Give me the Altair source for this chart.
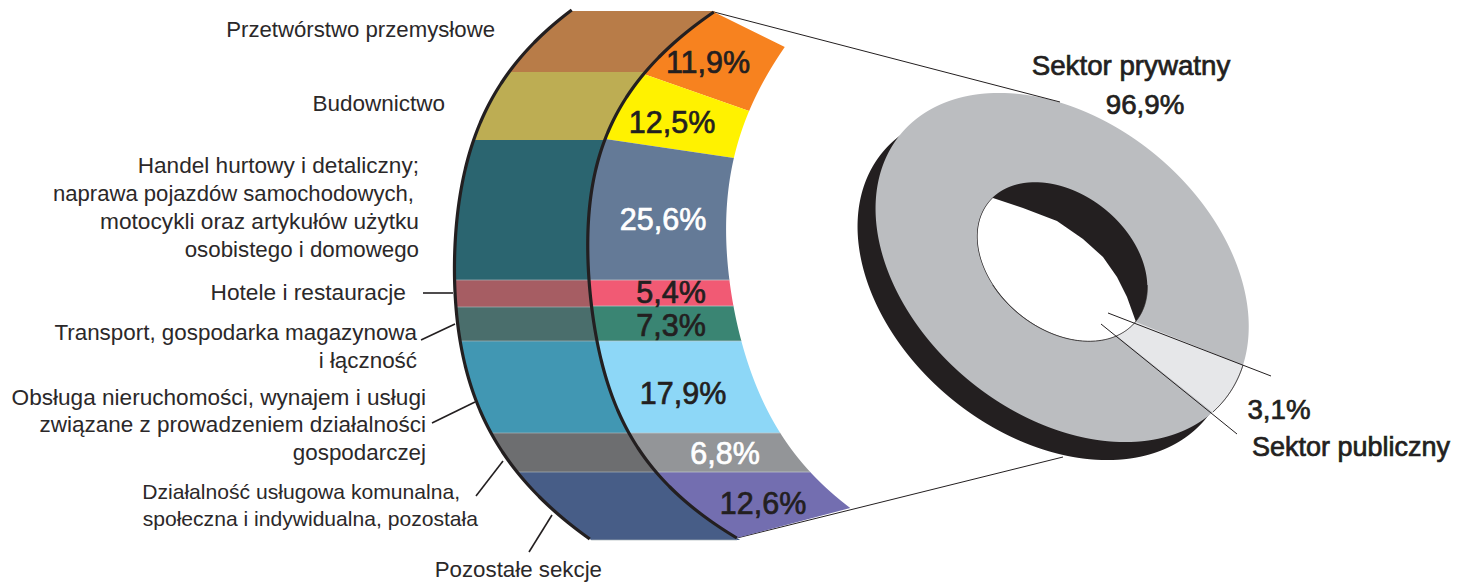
import numpy as np
import pandas as pd
import altair as alt

# ---- values ----
sections = ["Przetwórstwo przemysłowe", "Budownictwo", "Handel hurtowy", "Hotele i restauracje",
            "Transport", "Obsługa nieruchomości", "Działalność usługowa", "Pozostałe sekcje"]
share_labels = ["11,9%", "12,5%", "25,6%", "5,4%", "7,3%", "17,9%", "6,8%", "12,6%"]
share_x = [708, 672, 663, 671, 671, 683, 725, 763]
share_y = [64, 124, 221, 294, 327, 395, 455, 505]
share_colors = ["#231f20", "#231f20", "#ffffff", "#231f20", "#231f20", "#231f20", "#ffffff", "#231f20"]
left_colors = ["#b87c48", "#bdad53", "#2b6570", "#a65d63", "#4a6e6c", "#4197b3", "#6d6e70", "#475d87"]
right_colors = ["#f7821f", "#fff200", "#647a97", "#f15a74", "#3a8573", "#8dd7f7", "#939598", "#736eb0"]

left_breaks = [11, 72, 140, 280, 307, 341, 433, 472, 540]
mid_breaks = [12, 74, 139, 280, 306, 341, 433, 472, 538]
outer_breaks = [47, 111, 158, 280, 306, 341, 433, 472, 508]

left_arc_y = [10, 72, 140, 280, 306, 341, 433, 472, 539]
left_arc_x = [572, 508, 475, 453, 456, 461, 492, 516, 590]
mid_arc_y = [12, 74, 139, 280, 306, 341, 433, 472, 538]
mid_arc_x = [714, 643, 606, 588, 592, 597, 630, 655, 737]
outer_arc_y = [47, 111, 158, 217, 280, 306, 341, 433, 472, 508]
outer_arc_x = [785, 748, 735, 727, 728, 733, 742, 782, 808, 851]

ring_x = [1000, 1060, 1133, 1200, 1247, 893, 878, 883, 905, 1249, 1242, 1212, 1177, 1133, 1083, 1037, 960, 885]
ring_y = [93, 102, 137, 203, 297, 145, 213, 257, 307, 327, 365, 412, 435, 442, 438, 420, 373, 270]
hole_x = [993, 977, 980, 993, 1013, 1037, 1090, 1117, 1136, 1146, 1143, 1133, 1103, 1067, 1033, 1007]
hole_y = [198, 237, 260, 287, 308, 325, 342, 336, 322, 293, 260, 243, 207, 187, 183, 188]
wall_x = [990, 1023, 1057, 1083, 1103, 1117, 1127, 1136]
wall_y = [197, 208, 221, 239, 257, 277, 297, 322]
depth = 18

left_text = [
    ("Przetwórstwo przemysłowe", 495, 30, 22.2), ("Budownictwo", 445, 104, 22.5),
    ("Handel hurtowy i detaliczny;", 419, 166, 22.6), ("naprawa pojazdów samochodowych,", 414, 194, 22.1),
    ("motocykli oraz artykułów użytku", 419, 222, 22.7), ("osobistego i domowego", 419, 250, 22.3),
    ("Hotele i restauracje", 406, 293, 22.7), ("Transport, gospodarka magazynowa", 417, 333, 22.4),
    ("i łączność", 417, 361, 22.4), ("Obsługa nieruchomości, wynajem i usługi", 426, 398, 22.6),
    ("związane z prowadzeniem działalności", 426, 425, 22.5), ("gospodarczej", 426, 453, 22.4),
    ("Działalność usługowa komunalna,", 460, 493, 21.1), ("społeczna i indywidualna, pozostała", 478, 520, 21.1),
    ("Pozostałe sekcje", 602, 570, 22.3),
]
big_text = [("Sektor prywatny", 1131, 67, 27.7), ("96,9%", 1145, 106, 27.7), ("3,1%", 1279, 411, 27.7),
            ("Sektor publiczny", 1351, 448, 27)]
leaders = [((423, 293), (453, 293)), ((421, 340), (455, 324)), ((432, 423), (475, 402)),
           ((476, 496), (503, 461)), ((529, 552), (552, 515))]
connectors = [((714, 12), (1060, 102)), ((737, 538), (1063, 457)),
              ((1108, 313), (1271, 376)), ((1101, 324), (1237, 434))]

# ---- pixel scales ----
W, H = 1443, 574
xs = alt.Scale(domain=[8, 8 + W], range=[0, W])
ys = alt.Scale(domain=[8, 8 + H], range=[0, H])
X = lambda f: alt.X(f, type="quantitative", scale=xs, axis=None, stack=None)
Y = lambda f: alt.Y(f, type="quantitative", scale=ys, axis=None, stack=None)


def curve(ya, xa, deg=5):
    return np.polynomial.Polynomial.fit(ya, xa, deg)


L, M, R = curve(left_arc_y, left_arc_x), curve(mid_arc_y, mid_arc_x), curve(outer_arc_y, outer_arc_x)


def WALL(y):
    return np.interp(y, wall_y, wall_x)


def conic(px, py):
    px, py = np.array(px, float), np.array(py, float)
    cx, cy = px.mean(), py.mean()
    u, v = px - cx, py - cy
    A = np.c_[u * u, u * v, v * v, u, v]
    a, b, c, d, e = np.linalg.lstsq(A, np.ones(len(u)), rcond=None)[0]

    def branches(y):
        v = np.asarray(y, float) - cy
        bb = b * v + d
        cc = c * v * v + e * v - 1
        disc = bb * bb - 4 * a * cc
        ok = disc >= 0
        s = np.sqrt(np.where(ok, disc, np.nan))
        return (-bb - s) / (2 * a) + cx, (-bb + s) / (2 * a) + cx
    return branches


RING, HOLE = conic(ring_x, ring_y), conic(hole_x, hole_y)


def grid(a, b, step=0.5):
    return np.arange(a, b + step, step)


def area(y, x0, x1, color):
    d = pd.DataFrame({"y": y, "x0": x0, "x1": x1}).dropna()
    return alt.Chart(d).mark_area(orient="horizontal", color=color).encode(
        y=Y("y"), x=X("x0"), x2=alt.X2("x1"))


def segment(a, b, width, color="#231f20"):
    d = pd.DataFrame({"x": [a[0]], "y": [a[1]], "x2": [b[0]], "y2": [b[1]]})
    return alt.Chart(d).mark_rule(color=color, strokeWidth=width).encode(
        x=X("x"), y=Y("y"), x2=alt.X2("x2"), y2=alt.Y2("y2"))


def path(x, y, width, color="#231f20"):
    d = pd.DataFrame({"x": x, "y": y, "o": np.arange(len(x))}).dropna()
    return alt.Chart(d).mark_line(color=color, strokeWidth=width).encode(
        x=X("x"), y=Y("y"), order="o:Q")


def edge(y, p, q):
    return p[0] + (q[0] - p[0]) * (y - p[1]) / (q[1] - p[1] if q[1] != p[1] else 1)


layers = []
# donut
yy = grid(90, 470, 0.25)
lo, hi = RING(yy - depth)
layers.append(area(yy, lo - depth, hi - depth, "#231f20"))
lo, hi = RING(yy)
layers.append(area(yy, lo, hi, "#bbbdc0"))
# light sector
ys_l = grid(322, 412, 0.25)
hl, hr = HOLE(ys_l)
el, er = RING(ys_l)
p2a, p2b = (1117, 336), (1212, 412)
p1a, p1b = (1136, 322), (1242, 365)
sec0 = np.where(ys_l < 336, hr, edge(ys_l, p2a, p2b))
sec1 = np.where(ys_l < 365, edge(ys_l, p1a, p1b), er)
layers.append(area(ys_l, sec0, sec1, "#e6e7e9"))
ys_o = grid(365, 412, 0.5)
layers.append(path(RING(ys_o)[1], ys_o, 1))
# hole
yh = grid(170, 350, 0.25)
hl, hr = HOLE(yh)
layers.append(area(yh, hl, hr, "#231f20"))
yw = grid(197, 350, 0.25)
hl, hr = HOLE(yw)
wx0 = hl + 0.7
wx1 = np.minimum(hr, np.where(yw < 322, WALL(yw), hr))
layers.append(area(yw, np.minimum(wx0, wx1), wx1, "#ffffff"))
yo = grid(285, 350, 0.25)
hl, hr = HOLE(yo)
m = ~np.isnan(hl)
layers.append(path(np.r_[hl[m], hr[m][::-1]], np.r_[yo[m], yo[m][::-1]], 0.8))

# connectors drawn under the bands
for a, b in connectors:
    layers.append(segment(a, b, 1))

# muted bands
for i, c in enumerate(left_colors):
    y = grid(left_breaks[i], left_breaks[i + 1])
    layers.append(area(y, L(y), M(y), c))

# bright bands
for i, c in enumerate(right_colors):
    mt, mb, rt, rb = mid_breaks[i], mid_breaks[i + 1], outer_breaks[i], outer_breaks[i + 1]
    tl, tr = (float(M(mt)), mt), (float(R(rt)), rt)
    bl, br = (float(M(mb)), mb), (float(R(rb)), rb)
    y = grid(min(mt, rt), max(mb, rb), 0.25)
    x0 = np.where(y <= mb, M(y), edge(y, bl, br))
    x1 = np.where(y < rt, edge(y, tl, tr), np.where(y <= rb, R(y), edge(y, bl, br)))
    layers.append(area(y, x0, x1, c))

# pale seams between the horizontal bands
for b in left_breaks[3:]:
    layers.append(segment((float(L(b)), b), (float(M(b)) if b < 500 else 737, b), 0.7, "#aab4b8"))
for b in outer_breaks[3:-1]:
    layers.append(segment((float(M(b)), b), (float(R(b)), b), 0.7, "#c4cbce"))

# dark arcs
ya = grid(left_arc_y[0], left_arc_y[-1], 1)
layers.append(path(L(ya), ya, 3.2))
ya = grid(mid_arc_y[0], mid_arc_y[-1], 1)
layers.append(path(M(ya), ya, 3.2))

for a, b in leaders:
    layers.append(segment(a, b, 1.6))

# texts
df = pd.DataFrame(left_text, columns=["t", "x", "y", "s"])
layers.append(alt.Chart(df).mark_text(align="right", baseline="middle", font="Liberation Sans",
                                      color="#2b2829").encode(
    x=X("x"), y=Y("y"), text="t:N", size=alt.Size("s:Q", scale=None)))
df = pd.DataFrame({"t": share_labels, "x": share_x, "y": share_y, "c": share_colors})
layers.append(alt.Chart(df).mark_text(align="center", baseline="middle", font="Liberation Sans",
                                      fontSize=30.5, strokeWidth=0.7).encode(
    x=X("x"), y=Y("y"), text="t:N",
    color=alt.Color("c:N", scale=None), stroke=alt.Stroke("c:N", scale=None)))
df = pd.DataFrame(big_text, columns=["t", "x", "y", "s"])
layers.append(alt.Chart(df).mark_text(align="center", baseline="middle", font="Liberation Sans",
                                      color="#231f20", stroke="#231f20", strokeWidth=0.7).encode(
    x=X("x"), y=Y("y"), text="t:N", size=alt.Size("s:Q", scale=None)))

chart = alt.layer(*layers).properties(
    width=W, height=H, padding=0, autosize=alt.AutoSizeParams(type="none")
).configure_view(stroke=None)
chart.save("out.html", embed_options={"renderer": "svg", "actions": False})
